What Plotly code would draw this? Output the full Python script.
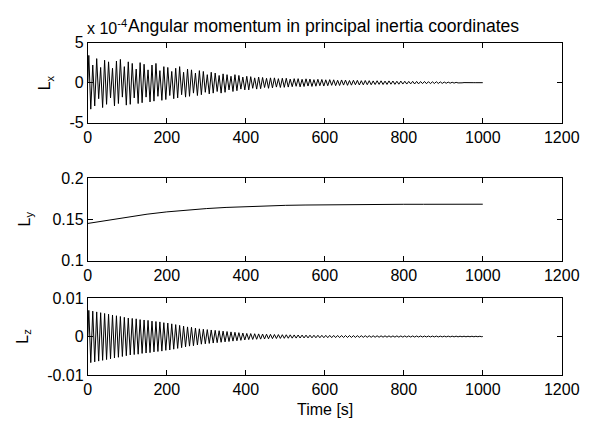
import plotly.graph_objects as go

# ---- data ----
# Lx: per-cycle peak / trough magnitudes (units of 1e-4), one cycle ~ every 10 s
lx_peak = [3.4, 2.2, 3.0, 1.9, 2.8, 2.6, 1.8, 2.7, 2.9, 2.0,
           2.6, 2.4, 1.7, 2.5, 2.3, 1.6, 2.2, 2.4, 1.5, 2.0,
           1.9, 1.4, 1.8, 2.0, 1.3, 1.7, 1.6, 1.2, 1.5, 1.4,
           1.0, 1.3, 1.2, 0.9, 1.1, 1.0, 0.8, 1.0, 0.9, 0.7,
           0.8, 0.75, 0.6, 0.7, 0.65, 0.55, 0.6, 0.6, 0.5, 0.55,
           0.55, 0.45, 0.5, 0.5, 0.42, 0.48, 0.45, 0.38, 0.42, 0.4,
           0.36, 0.38, 0.36, 0.3, 0.34, 0.32, 0.27, 0.3, 0.29, 0.25,
           0.27, 0.25, 0.22, 0.24, 0.23, 0.2, 0.22, 0.21, 0.18, 0.2,
           0.18, 0.16, 0.17, 0.16, 0.14, 0.15, 0.13, 0.11, 0.12, 0.1,
           0.08, 0.07, 0.05, 0.04, 0.02, 0.01, 0.0, 0.0, 0.0, 0.0]
lx_trough = [3.3, 2.9, 2.0, 3.1, 2.7, 1.9, 2.9, 2.6, 1.8, 2.8,
             2.7, 1.9, 2.6, 2.5, 1.8, 2.4, 2.3, 1.7, 2.2, 2.1,
             1.6, 2.0, 1.9, 1.5, 1.8, 1.7, 1.3, 1.6, 1.5, 1.2,
             1.4, 1.3, 1.1, 1.3, 1.2, 0.9, 1.1, 1.0, 0.8, 0.9,
             0.9, 0.7, 0.8, 0.75, 0.6, 0.7, 0.65, 0.55, 0.6, 0.58,
             0.55, 0.5, 0.45, 0.52, 0.48, 0.42, 0.47, 0.44, 0.38, 0.42,
             0.38, 0.33, 0.37, 0.35, 0.3, 0.33, 0.31, 0.26, 0.29, 0.27,
             0.25, 0.26, 0.23, 0.21, 0.23, 0.22, 0.19, 0.21, 0.19, 0.17,
             0.17, 0.15, 0.16, 0.15, 0.12, 0.13, 0.12, 0.1, 0.1, 0.09,
             0.07, 0.06, 0.05, 0.03, 0.02, 0.01, 0.0, 0.0, 0.0, 0.0]

# Ly: smooth curve
ly_t = [0, 50, 100, 150, 200, 250, 300, 350, 400, 450, 500,
        550, 600, 650, 700, 750, 800, 850, 900, 950, 1000]
ly_v = [0.145, 0.149, 0.153, 0.1562, 0.159, 0.1612, 0.163, 0.1644, 0.1655, 0.1663, 0.1669,
        0.1673, 0.1676, 0.1678, 0.168, 0.1681, 0.1682, 0.1682, 0.1683, 0.1683, 0.1683]

# Lz: per-cycle amplitude (units of 1e-3)
lz_amp = [6.8, 6.6, 6.4, 6.2, 6.0, 5.8, 5.6, 5.4, 5.2, 5.0,
          4.8, 4.7, 4.6, 4.4, 4.3, 4.2, 4.0, 3.9, 3.8, 3.6,
          3.5, 3.3, 3.1, 2.9, 2.7, 2.5, 2.4, 2.2, 2.0, 1.9,
          1.8, 1.7, 1.6, 1.5, 1.4, 1.3, 1.2, 1.1, 1.0, 0.9,
          0.8, 0.76, 0.72, 0.68, 0.64, 0.6, 0.56, 0.52, 0.5, 0.47,
          0.45, 0.43, 0.41, 0.39, 0.37, 0.36, 0.34, 0.33, 0.32, 0.31,
          0.3, 0.29, 0.28, 0.27, 0.26, 0.25, 0.24, 0.23, 0.22, 0.21,
          0.2, 0.2, 0.19, 0.19, 0.18, 0.18, 0.17, 0.16, 0.16, 0.15,
          0.15, 0.14, 0.14, 0.13, 0.13, 0.12, 0.12, 0.11, 0.11, 0.1,
          0.1, 0.1, 0.09, 0.09, 0.08, 0.08, 0.07, 0.07, 0.06, 0.06]

cycle_period = 10.0
x_ticks = [0, 200, 400, 600, 800, 1000, 1200]

# ---- build extrema sequences ----
def extrema(peaks, troughs, scale):
    t, v = [0.0], [0.0]
    for k, (p, q) in enumerate(zip(peaks, troughs)):
        t += [k * cycle_period + 2.5, k * cycle_period + 7.5]
        v += [p * scale, -q * scale]
    t.append(1000.0)
    v.append(0.0)
    return t, v

lx_t, lx_v = extrema(lx_peak, lx_trough, 1e-4)
lz_t, lz_v = extrema(lz_amp, lz_amp, 1e-3)

fig = go.Figure()
line = dict(color="black", width=1)
fig.add_trace(go.Scatter(x=lx_t, y=lx_v, mode="lines", line=line, xaxis="x", yaxis="y"))
fig.add_trace(go.Scatter(x=ly_t, y=ly_v, mode="lines", line=line, xaxis="x2", yaxis="y2"))
fig.add_trace(go.Scatter(x=lz_t, y=lz_v, mode="lines", line=line, xaxis="x3", yaxis="y3"))

W, H = 600, 431
xdom = [87 / W, 579 / W]
def ydom(top, bot):
    return [1 - bot / H, 1 - top / H]

FAM = "Liberation Sans, Arial, sans-serif"
font = dict(family=FAM, size=16, color="black")
tfont = dict(family=FAM, size=17.6, color="black")
ax_common = dict(showline=True, linecolor="black", linewidth=1, mirror="ticks",
                 ticks="inside", ticklen=5, tickcolor="black", showgrid=False,
                 zeroline=False, tickfont=font)

xa = dict(ax_common, range=[0, 1200], tickvals=x_ticks, domain=xdom)
fig.update_layout(
    width=W, height=H, margin=dict(l=0, r=0, t=0, b=0),
    paper_bgcolor="white", plot_bgcolor="white", showlegend=False, font=font,
    xaxis=dict(xa, anchor="y"),
    xaxis2=dict(xa, anchor="y2"),
    xaxis3=dict(xa, anchor="y3"),
    yaxis=dict(ax_common, range=[-5e-4, 5e-4], tickvals=[-5e-4, 0, 5e-4],
               ticktext=["-5", "0", "5"], domain=ydom(36, 119.5), anchor="x"),
    yaxis2=dict(ax_common, range=[0.1, 0.2], tickvals=[0.1, 0.15, 0.2],
                ticktext=["0.1", "0.15", "0.2"], domain=ydom(177, 263), anchor="x2"),
    yaxis3=dict(ax_common, range=[-0.01, 0.01], tickvals=[-0.01, 0, 0.01],
                ticktext=["-0.01", "0", "0.01"], domain=ydom(302, 382), anchor="x3"),
)

def ann(text, x, y, f=font, **kw):
    fig.add_annotation(text=text, x=x / W, y=1 - y / H, xref="paper", yref="paper",
                       showarrow=False, font=f, **kw)

ann("Angular momentum in principal inertia coordinates", 332, 19, f=tfont,
    xanchor="center", yanchor="middle")
ann("x 10<sup>-4</sup>", 84, 20, xanchor="left", yanchor="middle")
ann("L<sub>x</sub>", 44, 78, textangle=-90, xanchor="center", yanchor="middle")
ann("L<sub>y</sub>", 22, 220, textangle=-90, xanchor="center", yanchor="middle")
ann("L<sub>z</sub>", 20, 342, textangle=-90, xanchor="center", yanchor="middle")
ann("Time [s]", 333, 418, xanchor="center", yanchor="middle")

fig.write_html("out.html")
